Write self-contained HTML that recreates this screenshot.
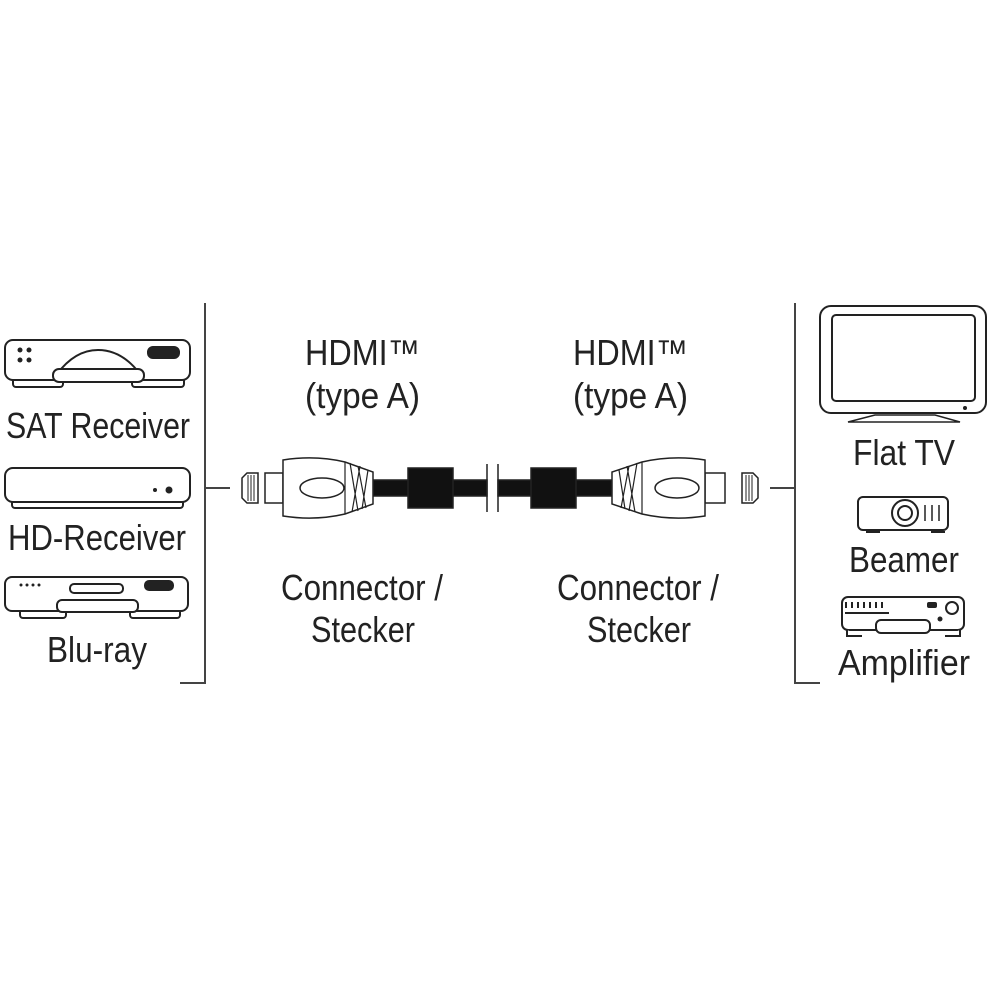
<!DOCTYPE html>
<html><head><meta charset="utf-8"><style>html,body{margin:0;padding:0;background:#fff}svg{display:block}</style></head><body>
<svg width="1000" height="1000" viewBox="0 0 1000 1000" xmlns="http://www.w3.org/2000/svg" font-family="Liberation Sans, sans-serif" fill="#222">
<g stroke="#444" stroke-width="2" fill="none">
<path d="M205 303V683H180M205 488H230"/>
<path d="M795 303V683H820M795 488H770"/>
</g>
<!-- SAT receiver -->
<g stroke="#222" stroke-width="2" fill="#fff">
<rect x="13" y="376" width="50" height="11" rx="3"/><rect x="132" y="376" width="52" height="11" rx="3"/>
<rect x="5" y="340" width="185" height="40" rx="8"/>
<path d="M57 374Q75 350 98 350Q122 350 140 374Z"/>
<rect x="53" y="369" width="91" height="13" rx="6"/>
<rect x="148" y="347" width="31" height="11" rx="5" fill="#222"/>
<!-- HD receiver -->
<rect x="12" y="498" width="171" height="10" rx="3"/>
<rect x="5" y="468" width="185" height="34" rx="8"/>
<!-- Blu-ray -->
<rect x="20" y="608" width="46" height="10" rx="3"/><rect x="130" y="608" width="50" height="10" rx="3"/>
<rect x="5" y="577" width="183" height="34" rx="7"/>
<rect x="57" y="600" width="81" height="12" rx="5"/>
<rect x="70" y="584" width="53" height="9" rx="4"/>
<rect x="145" y="581" width="28" height="9" rx="4" fill="#222"/>
</g>
<g fill="#222"><circle cx="20" cy="350" r="2.5"/><circle cx="29" cy="350" r="2.5"/><circle cx="20" cy="360" r="2.5"/><circle cx="29" cy="360" r="2.5"/>
<circle cx="155" cy="490" r="2"/><circle cx="169" cy="490" r="3.5"/>
<circle cx="21" cy="585" r="1.5"/><circle cx="27" cy="585" r="1.5"/><circle cx="33" cy="585" r="1.5"/><circle cx="39" cy="585" r="1.5"/></g>
<g font-size="36" fill="#222">
<text x="6" y="438" textLength="184" lengthAdjust="spacingAndGlyphs">SAT Receiver</text>
<text x="8" y="550" textLength="178" lengthAdjust="spacingAndGlyphs">HD-Receiver</text>
<text x="47" y="662" textLength="100" lengthAdjust="spacingAndGlyphs">Blu-ray</text>
<text x="305" y="365" textLength="115" lengthAdjust="spacingAndGlyphs">HDMI™</text>
<text x="305" y="408" textLength="115" lengthAdjust="spacingAndGlyphs">(type A)</text>
<text x="573" y="365" textLength="115" lengthAdjust="spacingAndGlyphs">HDMI™</text>
<text x="573" y="408" textLength="115" lengthAdjust="spacingAndGlyphs">(type A)</text>
<text x="281" y="600" textLength="162" lengthAdjust="spacingAndGlyphs">Connector /</text>
<text x="311" y="642" textLength="104" lengthAdjust="spacingAndGlyphs">Stecker</text>
<text x="557" y="600" textLength="162" lengthAdjust="spacingAndGlyphs">Connector /</text>
<text x="587" y="642" textLength="104" lengthAdjust="spacingAndGlyphs">Stecker</text>
<text x="853" y="465" textLength="102" lengthAdjust="spacingAndGlyphs">Flat TV</text>
<text x="849" y="572" textLength="110" lengthAdjust="spacingAndGlyphs">Beamer</text>
<text x="838" y="675" textLength="132" lengthAdjust="spacingAndGlyphs">Amplifier</text>
</g>
<!-- cable -->
<g stroke="#222" stroke-width="1.5" fill="#fff">
<rect x="373" y="480" width="114" height="16" fill="#111"/>
<rect x="408" y="468" width="45" height="40" fill="#111"/>
<rect x="498" y="480" width="114" height="16" fill="#111"/>
<rect x="531" y="468" width="45" height="40" fill="#111"/>
<path d="M487 464V512M498 464V512"/>
<path d="M242 478L247 473H258V503H247L242 498Z"/>
<path d="M248 475V501M251 475V501M254 475V501" stroke-width="1"/>
<rect x="265" y="473" width="18" height="30"/>
<path d="M283 460Q315 455 345 462L373 472V504L345 514Q315 521 283 516Z"/>
<path d="M345 462V514M350 463L358 511M358 466L366 508M360 466L352 512M368 470L362 509" stroke-width="1.2"/>
<ellipse cx="322" cy="488" rx="22" ry="10"/>
<path d="M758 478L753 473H742V503H753L758 498Z"/>
<path d="M746 475V501M749 475V501M752 475V501" stroke-width="1"/>
<rect x="705" y="473" width="20" height="30"/>
<path d="M705 460Q673 455 642 462L612 472V504L642 514Q673 521 705 516Z"/>
<path d="M642 462V514M637 463L629 511M629 466L621 508M627 466L635 512M619 470L625 509" stroke-width="1.2"/>
<ellipse cx="677" cy="488" rx="22" ry="10"/>
</g>
<!-- TV -->
<g stroke="#222" stroke-width="2" fill="#fff">
<rect x="820" y="306" width="166" height="107" rx="11"/>
<rect x="832" y="315" width="143" height="86" rx="4"/>
<path d="M848 422L875 415H935L960 422Z" stroke-width="1.5"/>
<!-- beamer -->
<rect x="858" y="497" width="90" height="33" rx="5"/>
<circle cx="905" cy="513" r="13"/><circle cx="905" cy="513" r="7"/>
<path d="M925 505V521M932 505V521M939 505V521" stroke-width="1.5"/>
<path d="M866 532H880M931 532H945"/>
<!-- amplifier -->
<rect x="842" y="597" width="122" height="33" rx="6"/>
<rect x="876" y="620" width="54" height="13" rx="5"/>
<path d="M847 630V636H862M960 630V636H945"/>
<circle cx="952" cy="608" r="6"/>
</g>
<g fill="#222"><circle cx="965" cy="408" r="2"/>
<rect x="927" y="602" width="10" height="6" rx="2"/><circle cx="940" cy="619" r="2.5"/>
<path d="M845 602h2v6h-2zM851 602h2v6h-2zM857 602h2v6h-2zM863 602h2v6h-2zM869 602h2v6h-2zM875 602h2v6h-2zM881 602h2v6h-2z"/>
<rect x="845" y="612" width="44" height="2"/></g>
</svg>
</body></html>
